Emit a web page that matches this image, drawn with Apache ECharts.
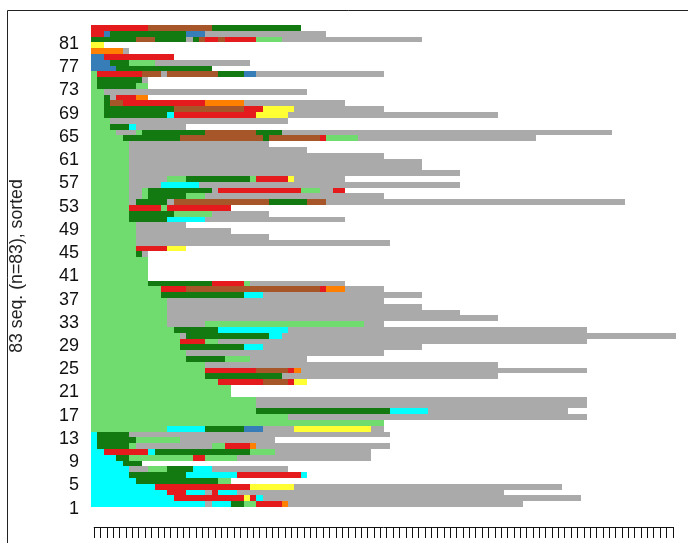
<!DOCTYPE html>
<html>
<head>
<meta charset="utf-8">
<script src="https://cdn.jsdelivr.net/npm/echarts@6/dist/echarts.min.js"></script>
<style>
html,body{margin:0;padding:0;background:#fff;}
#main{width:688px;height:543px;}
</style>
</head>
<body>
<div id="main"></div>
<script>
// State alphabet and colours
const states = ['LG', 'DG', 'RD', 'BR', 'BL', 'OR', 'YE', 'CY', 'GY'];
const stateColors = ['#70DB6E', '#127A10', '#E41A1C', '#A65628', '#377EB8', '#FF7F00', '#FFFF33', '#00FFFF', '#AAAAAA'];

// Number of time positions
const seqLength = 92;

// Sequences (run-length encoded), from row 1 (bottom) to row 83 (top)
const sequences = [
  'CY18 GY1 CY3 DG2 LG2 RD4 OR1 GY37',
  'CY13 RD11 YE1 RD1 CY1 GY50',
  'CY12 RD3 CY3 GY1 RD1 CY3 GY42',
  'CY10 RD15 YE7 GY42',
  'CY7 DG13 LG2',
  'CY6 DG9 CY8 RD10 CY1',
  'CY6 GY3 LG3 DG4 CY3 GY12',
  'CY5 DG3',
  'CY4 DG2 LG10 RD2 LG5 GY21',
  'CY2 RD7 CY1 DG15 LG4 GY15',
  'CY1 DG5 LG1 GY12 LG2 RD4 OR1 GY21',
  'CY1 DG6 LG7 GY15',
  'CY1 DG5 GY41',
  'LG12 CY6 DG6 BL3 GY5 YE12 GY2',
  'LG46',
  'LG31 GY47',
  'LG26 DG21 CY6 GY22',
  'LG26 GY52',
  'LG26 GY52',
  'LG22',
  'LG22',
  'LG20 RD7 BR4 RD1 YE2',
  'LG18 DG12 GY34',
  'LG18 RD8 BR5 RD1 OR1 GY45',
  'LG18 GY46',
  'LG15 DG6 LG4 GY9',
  'LG15 GY31',
  'LG14 DG10 CY3 GY25',
  'LG14 RD4 LG2 GY58',
  'LG14 GY1 DG13 CY2 GY62',
  'LG13 DG7 CY11 GY47',
  'LG12 GY6 LG25 GY3',
  'LG12 GY52',
  'LG12 GY46',
  'LG12 GY40',
  'LG12 GY34',
  'LG11 DG13 CY3 GY25',
  'LG11 RD4 BR21 RD1 OR3 GY6',
  'LG9 DG10 RD5 LG1 GY15',
  'LG9',
  'LG9',
  'LG9',
  'LG9',
  'LG7 DG1 GY1',
  'LG7 RD5 YE3',
  'LG7 GY40',
  'LG7 GY21',
  'LG7 GY15',
  'LG7 GY8',
  'LG6 DG6 CY6 GY22',
  'LG6 DG7 LG6 GY9',
  'LG6 RD5 LG1 RD10',
  'LG6 GY1 DG5 GY1 BR15 DG6 BR3 GY47',
  'LG6 GY2 LG1 DG6 LG3 GY28',
  'LG6 GY2 LG1 DG10 GY1 RD13 LG3 GY2 RD2',
  'LG6 GY5 CY6 GY41',
  'LG6 GY6 LG3 DG10 LG1 RD5 YE1 GY8',
  'LG6 GY52',
  'LG6 GY46',
  'LG6 GY46',
  'LG6 GY40',
  'LG6 GY28',
  'LG6 GY22',
  'LG5 DG9 BR13 DG1 BR8 RD1 LG5 GY28',
  'LG4 GY3 LG1 DG10 BR8 DG4 GY52',
  'LG3 DG3 CY1 GY8',
  'LG3 GY28',
  'LG2 DG10 CY1 RD13 YE5 GY33',
  'LG2 DG11 BR11 RD3 YE5 GY14',
  'LG2 DG1 BR2 RD13 OR6 GY16',
  'LG2 DG1 GY1 RD3 OR2',
  'LG2 GY32',
  'LG1 DG6 LG2',
  'LG1 DG7 GY1',
  'LG1 RD7 BR3 GY1 BR8 DG4 BL2 GY20',
  'BL4 DG15',
  'BL3 DG3 LG4 GY15',
  'BL2 RD11',
  'OR5 GY1',
  'YE2',
  'DG7 BR3 DG5 GY1 DG1 BR1 RD2 BR1 RD5 LG4 GY22',
  'RD2 BL1 DG12 BL3 GY19',
  'RD9 BR10 DG14'
];

const rowLabels = sequences.map((_, i) => String(i + 1));
const yTitle = '83 seq. (n=83), sorted';

// Build segment data [start, end, row, state]
const segData = [];
sequences.forEach((s, row) => {
  let pos = 0;
  s.split(' ').forEach(tok => {
    const st = tok.slice(0, 2);
    const len = parseInt(tok.slice(2), 10);
    segData.push([pos, pos + len, row, states.indexOf(st)]);
    pos += len;
  });
});

const chart = echarts.init(document.getElementById('main'), null, {renderer: 'canvas'});

const option = {
  animation: false,
  backgroundColor: '#fff',
  grid: [
    {left: 91, top: 25, width: 585, height: 482, containLabel: false},
    {left: 94.2, top: 527, width: 578.6, height: 12, containLabel: false},
    {left: 91, top: 29.5, width: 585, height: 482, containLabel: false}
  ],
  xAxis: [
    {gridIndex: 0, type: 'value', min: 0, max: seqLength, show: false},
    {gridIndex: 1, type: 'value', min: 1, max: seqLength, interval: 1, position: 'top',
     axisLine: {show: true, onZero: false, lineStyle: {color: '#111', width: 1}},
     axisTick: {show: true, inside: true, length: 11, lineStyle: {color: '#111', width: 1}},
     axisLabel: {show: false}, splitLine: {show: false}},
    {gridIndex: 2, type: 'value', min: 0, max: seqLength, show: false}
  ],
  yAxis: [
    {gridIndex: 0, type: 'category', data: rowLabels, show: false},
    {gridIndex: 1, type: 'value', min: 0, max: 1, show: false},
    {gridIndex: 2, type: 'category', data: rowLabels,
     axisLine: {show: false}, axisTick: {show: false}, splitLine: {show: false},
     axisLabel: {interval: function (idx) { return idx % 4 === 0; }, fontSize: 18,
       fontFamily: 'Liberation Sans, Arial, sans-serif', color: '#111', margin: 12}}
  ],
  graphic: [
    {type: 'rect', shape: {x: 7.5, y: 10.5, width: 800, height: 700}, style: {fill: null, stroke: '#222', lineWidth: 1}, z: 100},
    {type: 'text', x: 17, y: 266, rotation: Math.PI / 2,
     style: {text: yTitle, fontSize: 17.7, fontFamily: 'Liberation Sans, Arial, sans-serif', fill: '#222',
       textAlign: 'center', textVerticalAlign: 'middle'}}
  ],
  series: [{
    type: 'custom',
    xAxisIndex: 0, yAxisIndex: 0,
    data: segData,
    encode: {x: [0, 1], y: 2},
    renderItem: function (params, api) {
      const a = api.coord([api.value(0), api.value(2)]);
      const b = api.coord([api.value(1), api.value(2)]);
      const h = api.size([0, 1])[1];
      const y0 = Math.round(a[1] - h / 2 + 1e-6);
      const y1 = Math.round(a[1] + h / 2 + 1e-6);
      const x0 = Math.round(a[0] + 1e-6);
      const x1 = Math.round(b[0] + 1e-6);
      return {
        type: 'rect',
        shape: {x: x0, y: y0, width: x1 - x0, height: y1 - y0},
        style: {fill: stateColors[api.value(3)]}
      };
    }
  }]
};
chart.setOption(option);
</script>
</body>
</html>
